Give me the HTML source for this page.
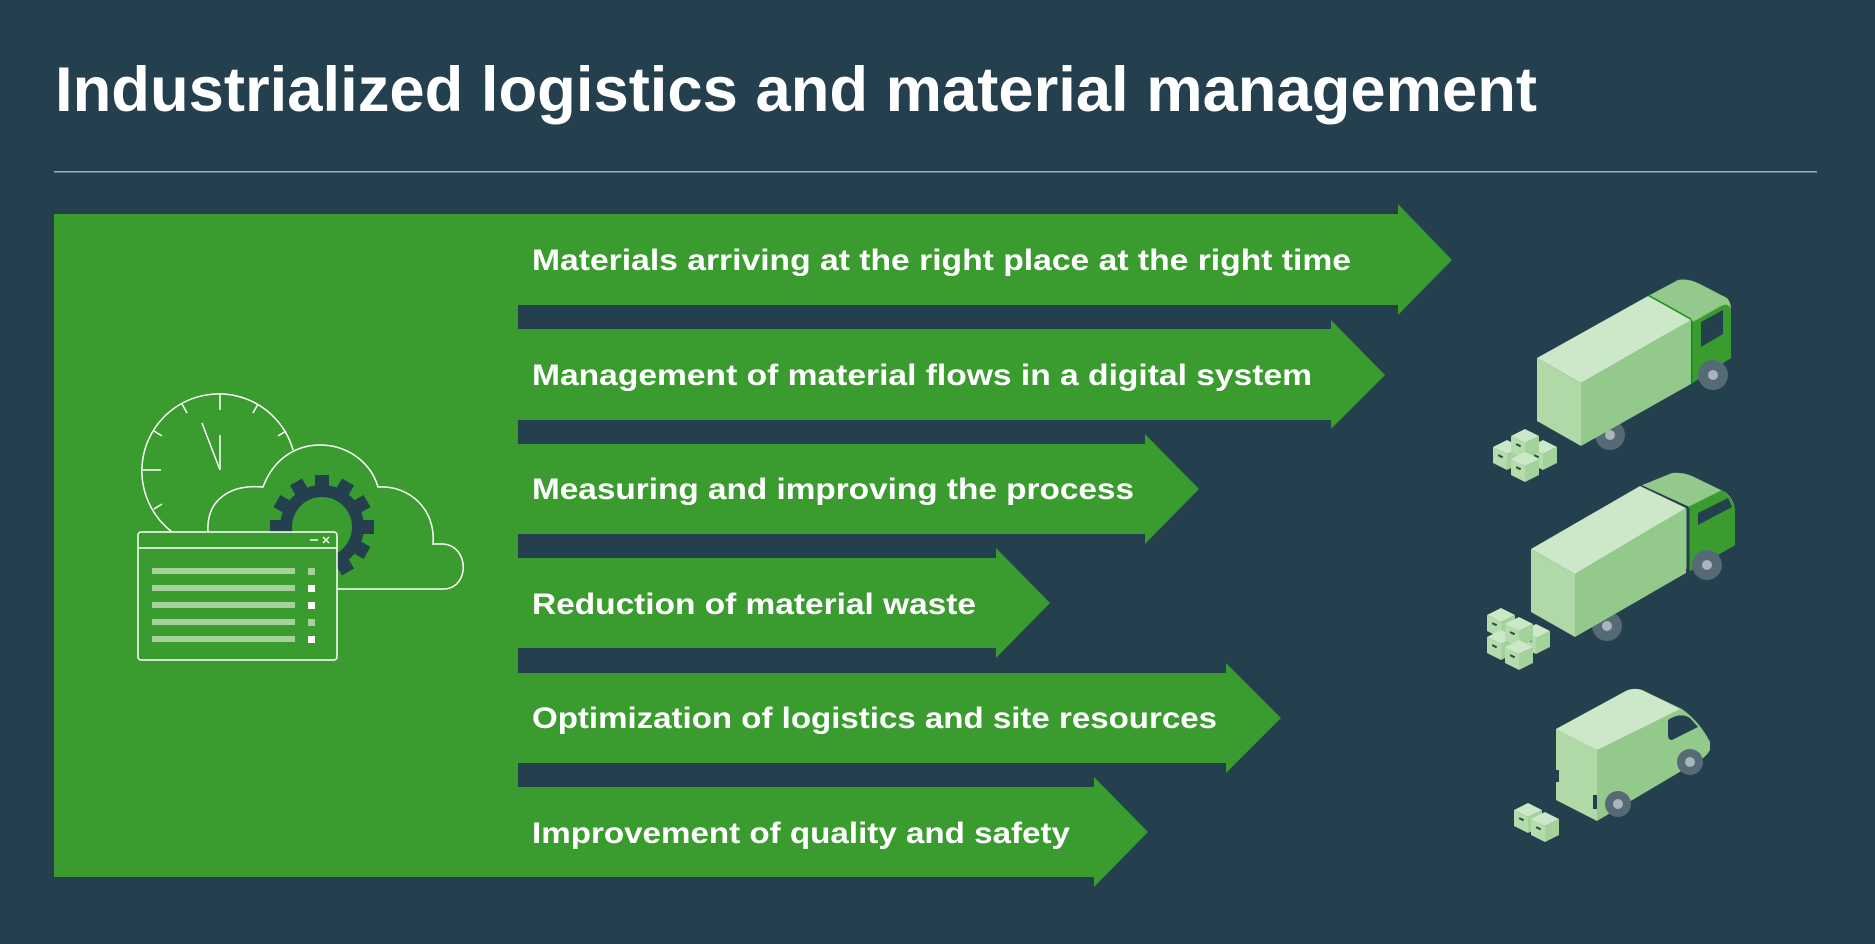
<!DOCTYPE html>
<html><head><meta charset="utf-8"><style>
html,body{margin:0;padding:0;background:#243f4e;}
svg{display:block}
text{font-family:"Liberation Sans",Arial,sans-serif;font-weight:bold;fill:#fff}
</style></head><body>
<svg width="1875" height="944" viewBox="0 0 1875 944" xmlns="http://www.w3.org/2000/svg">
<defs>
<g id="cube">
<polygon points="0,7 14,0 28,7 14,14" fill="#cde8c9"/>
<polygon points="0,7 14,14 14,30 0,23" fill="#b4dcac"/>
<polygon points="14,14 28,7 28,23 14,30" fill="#a3d29a"/>
<rect x="5" y="15" width="5" height="2" fill="#2d4a3a" transform="rotate(26 7 16)"/>
</g>
</defs>
<rect width="1875" height="944" fill="#243f4e"/>
<text x="55" y="111" font-size="63" textLength="1482" lengthAdjust="spacingAndGlyphs">Industrialized logistics and material management</text>
<rect x="54" y="171" width="1763" height="1.5" fill="#9fb3bd"/>
<!-- panel -->
<rect x="54" y="214" width="464" height="663" fill="#3a9b2f"/>
<g fill="#3a9b2f">
<polygon points="517,214 1398,214 1398,204 1452,260 1398,315 1398,305 517,305"/>
<polygon points="517,329 1331,329 1331,320 1385,375 1331,429 1331,420 517,420"/>
<polygon points="517,444 1145,444 1145,434 1199,489 1145,544 1145,534 517,534"/>
<polygon points="517,558 996,558 996,548 1050,603 996,658 996,648 517,648"/>
<polygon points="517,673 1226,673 1226,663 1281,718 1226,773 1226,763 517,763"/>
<polygon points="517,787 1094,787 1094,777 1148,832 1094,887 1094,877 517,877"/>
</g>
<g font-size="30">
<text x="532" y="270" textLength="819" lengthAdjust="spacingAndGlyphs">Materials arriving at the right place at the right time</text>
<text x="532" y="385" textLength="780" lengthAdjust="spacingAndGlyphs">Management of material flows in a digital system</text>
<text x="532" y="499" textLength="602" lengthAdjust="spacingAndGlyphs">Measuring and improving the process</text>
<text x="532" y="614" textLength="444" lengthAdjust="spacingAndGlyphs">Reduction of material waste</text>
<text x="532" y="728" textLength="685" lengthAdjust="spacingAndGlyphs">Optimization of logistics and site resources</text>
<text x="532" y="843" textLength="538" lengthAdjust="spacingAndGlyphs">Improvement of quality and safety</text>
</g>
<!-- icon -->
<g fill="none" stroke="#fff" stroke-width="1.5">
<path d="M293,450 A77,77 0 1 0 172,532"/>
<line x1="220" y1="393" x2="220" y2="410"/>
<line x1="182" y1="404" x2="187" y2="413"/>
<line x1="258" y1="404" x2="253" y2="413"/>
<line x1="154" y1="431" x2="162" y2="436"/>
<line x1="286" y1="431" x2="278" y2="436"/>
<line x1="143" y1="470" x2="161" y2="470"/>
<line x1="154" y1="509" x2="162" y2="504"/>
<line x1="220" y1="435" x2="220" y2="470"/>
<line x1="202" y1="423" x2="220" y2="470"/>
<path d="M208,532 C206,500 230,484 263,487 C275,455 300,445 320,445 C345,445 370,460 378,487 C410,485 436,510 433,544 L443,544 C470,546 470,589 443,589 L337,589"/>
</g>
<g fill="#243f4e">
<circle cx="322" cy="527" r="42"/>
<g transform="translate(322 527)">
<rect x="-7" y="-52" width="14" height="14"/>
<rect x="-7" y="-52" width="14" height="14" transform="rotate(30)"/>
<rect x="-7" y="-52" width="14" height="14" transform="rotate(60)"/>
<rect x="-7" y="-52" width="14" height="14" transform="rotate(90)"/>
<rect x="-7" y="-52" width="14" height="14" transform="rotate(120)"/>
<rect x="-7" y="-52" width="14" height="14" transform="rotate(150)"/>
<rect x="-7" y="-52" width="14" height="14" transform="rotate(180)"/>
<rect x="-7" y="-52" width="14" height="14" transform="rotate(210)"/>
<rect x="-7" y="-52" width="14" height="14" transform="rotate(240)"/>
<rect x="-7" y="-52" width="14" height="14" transform="rotate(270)"/>
<rect x="-7" y="-52" width="14" height="14" transform="rotate(300)"/>
<rect x="-7" y="-52" width="14" height="14" transform="rotate(330)"/>
</g>
</g>
<circle cx="322" cy="527" r="30" fill="#3a9b2f"/>
<rect x="138" y="532" width="199" height="128" rx="3" fill="#3a9b2f" stroke="#fff" stroke-width="1.5"/>
<line x1="138" y1="548" x2="337" y2="548" stroke="#fff" stroke-width="1.5"/>
<line x1="310" y1="540" x2="318" y2="540" stroke="#fff" stroke-width="1.5"/>
<path d="M323,537 l6,6 M329,537 l-6,6" stroke="#fff" stroke-width="1.5"/>
<g fill="#a5d29c">
<rect x="152" y="568" width="143" height="6"/>
<rect x="152" y="585" width="143" height="6"/>
<rect x="152" y="602" width="143" height="6"/>
<rect x="152" y="619" width="143" height="6"/>
<rect x="152" y="636" width="143" height="6"/>
<rect x="308" y="568" width="7" height="7"/>
<rect x="308" y="619" width="7" height="7"/>
</g>
<g fill="#fff">
<rect x="308" y="585" width="7" height="7"/>
<rect x="308" y="602" width="7" height="7"/>
<rect x="308" y="636" width="7" height="7"/>
</g>
<!-- truck 1 -->
<circle cx="1610" cy="435" r="15" fill="#566a75"/><circle cx="1610" cy="435" r="5" fill="#a9b4bb"/>
<path d="M1648,296 L1678,280 Q1688,278 1700,284 L1727,298 Q1731,302 1731,310 L1731,358 L1691,380 Z" fill="#93ca8b"/>
<path d="M1691,323 L1721,306 Q1729,302 1731,310 L1731,358 L1691,384 Z" fill="#3a9b2f"/>
<line x1="1648" y1="296" x2="1691" y2="320" stroke="#168a16" stroke-width="3"/>
<line x1="1691" y1="320" x2="1691" y2="384" stroke="#168a16" stroke-width="3"/>
<polygon points="1701,322 1723,310 1723,334 1701,347" fill="#243f4e"/>
<circle cx="1713" cy="375" r="15" fill="#566a75"/><circle cx="1713" cy="375" r="5" fill="#a9b4bb"/>
<polygon points="1537,358 1648,296 1691,320 1581,383" fill="#cde8c9"/>
<polygon points="1537,358 1581,383 1581,446 1537,421" fill="#b0d9a7"/>
<polygon points="1581,383 1691,320 1691,384 1581,446" fill="#93ca8b"/>
<use href="#cube" x="1493" y="440"/><use href="#cube" x="1529" y="440"/>
<use href="#cube" x="1511" y="429"/><use href="#cube" x="1511" y="452"/>
<!-- truck 2 -->
<circle cx="1607" cy="626" r="15" fill="#566a75"/><circle cx="1607" cy="626" r="5" fill="#a9b4bb"/>
<path d="M1640,486 L1672,473 Q1682,472 1692,476 L1725,492 Q1735,500 1735,512 L1735,545 L1688,572 Z" fill="#93ca8b"/>
<path d="M1688,507 L1722,490 Q1735,500 1735,512 L1735,545 L1688,572 Z" fill="#3a9b2f"/>
<polygon points="1698,513 1728,498 1732,507 1698,525" fill="#243f4e"/>
<line x1="1640" y1="486" x2="1688" y2="508" stroke="#243f4e" stroke-width="3"/>
<line x1="1688" y1="508" x2="1688" y2="572" stroke="#243f4e" stroke-width="3"/>
<circle cx="1707" cy="565" r="15" fill="#566a75"/><circle cx="1707" cy="565" r="5" fill="#a9b4bb"/>
<polygon points="1531,549 1640,486 1686,508 1575,574" fill="#cde8c9"/>
<polygon points="1531,549 1575,574 1575,637 1531,612" fill="#b0d9a7"/>
<polygon points="1575,574 1686,508 1686,573 1575,637" fill="#93ca8b"/>
<use href="#cube" x="1487" y="608"/><use href="#cube" x="1487" y="630"/>
<use href="#cube" x="1522" y="624"/><use href="#cube" x="1505" y="617"/><use href="#cube" x="1505" y="640"/>
<!-- van -->
<path d="M1556,729 L1624,692 Q1632,687 1642,690 L1682,709 Q1700,722 1710,742 L1710,750 Q1705,760 1683,770 L1597,821 Z" fill="#93ca8b"/>
<polygon points="1556,729 1624,692 Q0 0 0 0" fill="none"/>
<path d="M1556,729 L1624,692 Q1632,687 1642,690 L1680,709 L1597,750 Z" fill="#cde8c9"/>
<polygon points="1556,729 1597,750 1597,821 1556,800" fill="#b0d9a7"/>
<path d="M1668,720 Q1680,712 1690,718 L1698,727 L1672,740 Q1668,740 1668,735 Z" fill="#243f4e"/>
<rect x="1556" y="770" width="3" height="12" fill="#243f4e"/>
<rect x="1593" y="795" width="4" height="14" fill="#243f4e"/>
<circle cx="1690" cy="762" r="13" fill="#566a75"/><circle cx="1690" cy="762" r="5" fill="#a9b4bb"/>
<circle cx="1618" cy="804" r="13" fill="#566a75"/><circle cx="1618" cy="804" r="5" fill="#a9b4bb"/>
<use href="#cube" x="1514" y="803"/><use href="#cube" x="1531" y="812"/>
</svg>
</body></html>
